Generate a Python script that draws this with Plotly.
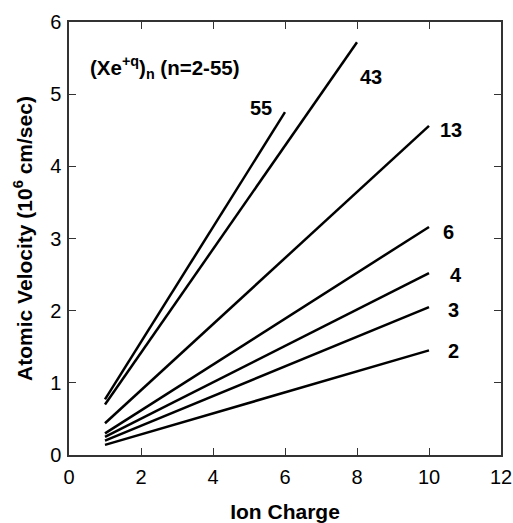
import plotly.graph_objects as go

series_names = ["2", "3", "4", "6", "13", "43", "55"]
x_start = [1, 1, 1, 1, 1, 1, 1]
x_end = [10, 10, 10, 10, 10, 8, 6]
y_start = [0.14, 0.20, 0.25, 0.30, 0.44, 0.70, 0.77]
y_end = [1.45, 2.05, 2.52, 3.16, 4.56, 5.72, 4.75]

label_x = [10.67, 10.67, 10.75, 10.55, 10.6, 8.39, 5.33]
label_y = [1.44, 2.01, 2.49, 3.09, 4.5, 5.24, 4.81]

x_ticks = [0, 2, 4, 6, 8, 10, 12]
y_ticks = [0, 1, 2, 3, 4, 5, 6]

FONT = "Liberation Sans, Arial"

fig = go.Figure()
for n, xs, xe, ys, ye in zip(series_names, x_start, x_end, y_start, y_end):
    fig.add_trace(go.Scatter(x=[xs, xe], y=[ys, ye], mode="lines",
                             line=dict(color="black", width=2.5), name=n,
                             showlegend=False))

for n, lx, ly in zip(series_names, label_x, label_y):
    fig.add_annotation(x=lx, y=ly, text="<b>%s</b>" % n, showarrow=False,
                       font=dict(family=FONT, size=20, color="black"))

fig.add_annotation(x=0.52, y=5.37, xanchor="left",
                   text="<b>(Xe<sup>+q</sup>)<sub>n</sub> (n=2-55)</b>", showarrow=False,
                   font=dict(family=FONT, size=20.5, color="black"))

axis_common = dict(showgrid=False, zeroline=False, showline=True, mirror="ticks",
                   linecolor="#333", linewidth=1.5, ticks="inside", ticklen=7,
                   tickwidth=1, tickcolor="#333", automargin=False,
                   tickfont=dict(family=FONT, size=20, color="black"))

fig.update_layout(
    width=513, height=523,
    margin=dict(l=69, r=12, t=22, b=68),
    paper_bgcolor="white", plot_bgcolor="white",
    xaxis=dict(range=[0, 12], tickvals=x_ticks, ticklabelstandoff=3, **axis_common,
               title=dict(text="<b>Ion Charge</b>", standoff=20,
                          font=dict(family=FONT, size=21, color="black"))),
    yaxis=dict(range=[0, 6], tickvals=y_ticks, ticklabelstandoff=2, **axis_common,
               title=dict(text="<b>Atomic Velocity (10<sup>6</sup> cm/sec)</b>", standoff=12,
                          font=dict(family=FONT, size=21, color="black"))),
)

fig.write_html("out.html")
